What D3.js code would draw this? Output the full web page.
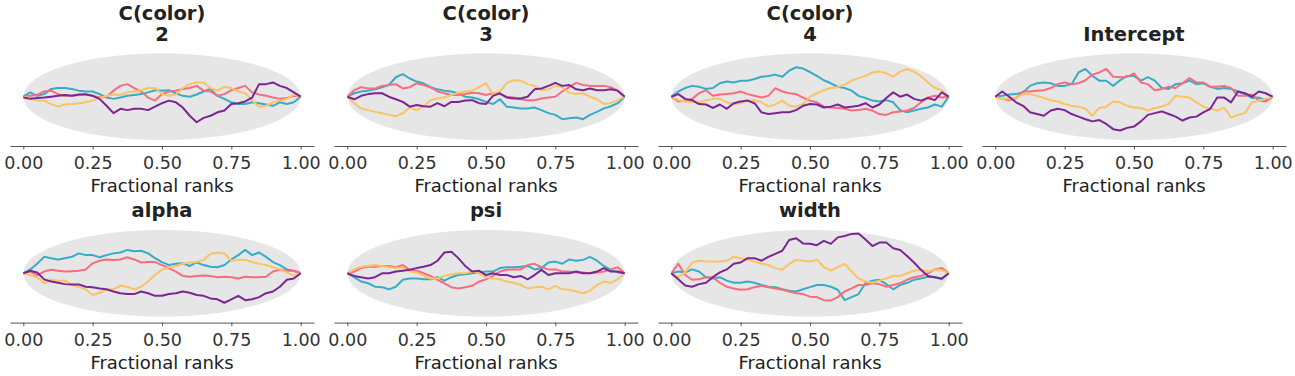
<!DOCTYPE html>
<html>
<head>
<meta charset="utf-8">
<script src="https://cdnjs.cloudflare.com/ajax/libs/d3/7.8.5/d3.min.js"></script>
<style>
body { margin: 0; background: #fff; }
</style>
</head>
<body>
<script>
// rank ECDF difference plot, 4 chains per variable
var chartWidth = 1295;
var chartHeight = 376;

var chainColors = ["#36acc6", "#f66d7f", "#fac364", "#7c2695"];
var tickValues = [0, 0.25, 0.5, 0.75, 1];
var xLabel = "Fractional ranks";
var panelTitles = [["C(color)", "2"], ["C(color)", "3"], ["C(color)", "4"], ["Intercept"], ["alpha"], ["psi"], ["width"]];

// fractional rank grid, 41 points
var rankGrid = [0, 0.025, 0.05, 0.075, 0.1, 0.125, 0.15, 0.175, 0.2, 0.225, 0.25, 0.275, 0.3, 0.325, 0.35, 0.375, 0.4, 0.425, 0.45, 0.475, 0.5,
	0.525, 0.55, 0.575, 0.6, 0.625, 0.65, 0.675, 0.7, 0.725, 0.75, 0.775, 0.8, 0.825, 0.85, 0.875, 0.9, 0.925, 0.95, 0.975, 1];

// ECDF difference per chain (chain 0..3)
var color2Diff = [
	[0, .010, .002, .006, .018, .020, .020, .018, .014, .012, .012, .006, -.002, -.005, -.002, .002, .004, .006, .010, .015, .014, .015, .008, .002, 0, .005, .012, .018, .002, -.005, -.013, -.017, -.017, -.013, -.015, -.018, -.021, -.013, -.017, -.013, 0],
	[0, .002, .004, .012, .014, .006, .002, .002, .004, .006, .002, -.002, 0, .014, .025, .029, .020, .012, -.002, -.009, .006, .012, .014, .018, .020, .025, .014, .012, .002, .006, .015, .020, .025, .010, .005, .002, -.002, -.005, -.003, .002, 0],
	[0, -.003, -.009, -.009, -.017, -.023, -.018, -.017, -.015, -.013, -.009, -.003, .002, .005, .004, .010, .012, .015, .020, .020, .006, .002, .005, .020, .029, .033, .033, .020, .014, .023, .020, .012, .008, -.008, -.023, -.021, -.013, -.009, -.005, .005, 0],
	[-.002, -.005, -.003, -.002, 0, .002, .004, .002, .005, .005, .002, -.005, -.021, -.038, -.028, -.031, -.028, -.028, -.031, -.023, -.015, -.009, -.013, -.025, -.044, -.059, -.049, -.044, -.036, -.032, -.017, -.015, -.011, -.002, .029, .029, .033, .025, .020, .010, 0]
];
var color3Diff = [
	[0, .008, .012, .014, .017, .022, .027, .045, .052, .042, .035, .031, .022, .017, .014, .012, .008, 0, -.002, -.006, -.012, -.017, -.006, -.023, -.025, -.027, -.027, -.025, -.031, -.038, -.042, -.052, -.050, -.048, -.052, -.042, -.035, -.027, -.022, -.015, 0],
	[0, .015, .022, .019, .019, .025, .027, .029, .019, .022, .031, .027, .022, .012, .008, .004, .004, .006, .009, .008, .004, .008, .006, 0, -.002, -.006, -.008, -.008, -.004, -.002, 0, .012, .022, .032, .027, .025, .025, .025, .022, .014, 0],
	[0, -.015, -.027, -.031, -.035, -.038, -.042, -.045, -.038, -.025, -.031, -.022, -.008, -.004, -.002, .004, .009, .012, .014, .022, .031, .006, .012, .032, .038, .037, .029, .025, .015, .017, .025, .022, .009, .006, .008, 0, -.006, -.017, -.015, -.008, 0],
	[0, -.006, .002, .006, .008, .008, 0, -.006, -.012, -.023, -.019, -.022, -.023, -.015, -.022, -.012, -.012, -.009, -.008, -.015, -.017, .002, .008, -.002, -.004, -.004, 0, .017, .019, .025, .032, .025, .027, .017, .015, .019, .015, .015, .017, .014, 0]
];
var color4Diff = [
	[0, .012, .020, .025, .023, .018, .020, .031, .035, .033, .037, .037, .041, .046, .048, .051, .046, .060, .068, .065, .057, .048, .038, .031, .023, .020, .014, .002, -.003, -.009, -.011, -.008, -.013, -.031, -.036, -.032, -.028, -.025, -.018, -.023, 0],
	[0, -.011, -.009, -.005, .008, .015, .002, .005, .006, .008, .012, .006, .002, -.002, .002, .020, .012, .008, .006, -.002, -.009, -.013, -.023, -.025, -.026, -.028, -.032, -.031, -.028, -.032, -.040, -.042, -.036, -.034, -.032, -.026, -.013, -.002, .002, -.002, 0],
	[0, -.008, -.011, -.013, -.013, -.008, -.005, -.005, -.013, -.018, -.015, -.009, -.008, -.013, -.023, -.018, -.009, -.021, -.023, -.017, 0, .008, .015, .020, .022, .028, .037, .043, .048, .056, .058, .054, .046, .058, .064, .058, .048, .033, .020, .015, 0],
	[0, .006, -.005, -.008, -.017, -.018, -.026, -.018, -.028, -.015, -.011, -.009, -.015, -.036, -.040, -.038, -.036, -.036, -.031, -.021, -.017, -.018, -.025, -.023, -.018, -.025, -.023, -.021, -.015, -.025, -.018, -.003, .010, 0, .005, -.005, -.009, -.003, -.008, .010, 0]
];
var interceptDiff = [
	[0, .002, .005, .006, .010, .025, .031, .033, .031, .025, .025, .029, .056, .064, .048, .037, .037, .025, .038, .048, .048, .037, .045, .037, .020, .018, .029, .031, .037, .029, .031, .023, .018, .020, .018, .012, .006, -.003, -.002, -.008, 0],
	[0, -.005, -.008, -.003, .012, .012, .014, .015, .020, .029, .033, .029, .031, .038, .051, .056, .064, .046, .045, .046, .054, .033, .029, .015, .018, .023, .020, .031, .043, .033, .033, .023, .023, .025, .020, .002, .002, .005, -.009, -.011, 0],
	[0, -.005, -.005, -.002, .006, .006, .002, -.003, -.008, -.011, -.017, -.021, -.023, -.028, -.044, -.026, -.023, -.011, -.013, -.021, -.025, -.026, -.032, -.026, -.023, -.017, .002, 0, -.002, -.013, -.023, -.028, -.032, -.025, -.048, -.042, -.038, -.013, -.009, -.005, 0],
	[0, .012, 0, -.013, -.021, -.036, -.040, -.044, -.032, -.028, -.031, -.040, -.046, -.052, -.057, -.054, -.063, -.075, -.078, -.072, -.069, -.057, -.042, -.038, -.034, -.040, -.046, -.055, -.048, -.046, -.036, -.028, -.002, -.002, -.013, .012, .008, 0, .012, .008, 0]
];
var alphaDiff = [
	[0, .009, .022, .038, .035, .032, .035, .038, .046, .042, .042, .037, .042, .046, .048, .054, .051, .052, .046, .035, .026, .019, .022, .023, .017, .025, .019, .015, .014, .019, .032, .042, .054, .042, .048, .038, .026, .019, .009, .006, 0],
	[0, .004, -.004, .004, .008, .006, .004, .005, .006, .009, .023, .029, .032, .031, .032, .037, .032, .025, .026, .026, .019, .012, .004, -.006, -.008, -.006, -.005, -.006, -.009, -.008, -.009, -.012, -.008, -.009, -.009, -.008, .004, .008, .006, .006, 0],
	[0, -.004, -.009, -.023, -.015, -.017, -.017, -.026, -.032, -.037, -.050, -.045, -.038, -.037, -.029, -.031, -.037, -.031, -.019, -.004, .008, .014, .017, .022, .025, .026, .031, .045, .048, .046, .029, .031, .031, .026, .022, .019, .014, .009, .002, -.006, 0],
	[0, .006, .002, -.014, -.019, -.022, -.025, -.026, -.026, -.031, -.032, -.035, -.037, -.042, -.046, -.048, -.048, -.042, -.046, -.052, -.052, -.048, -.046, -.042, -.045, -.050, -.052, -.058, -.060, -.068, -.060, -.052, -.062, -.060, -.055, -.046, -.042, -.031, -.015, -.012, 0]
];
var psiDiff = [
	[0, -.009, -.019, -.023, -.031, -.032, -.037, -.031, -.015, -.012, -.012, -.014, -.014, -.009, -.017, -.009, -.004, -.002, 0, .002, .004, .004, .012, .014, .014, .015, .017, .009, .012, .025, .027, .022, .032, .029, .031, .038, .029, .017, .008, .002, 0],
	[0, .004, .012, .015, .015, .017, .017, .014, .019, .008, .006, 0, -.006, -.015, -.023, -.032, -.035, -.032, -.029, -.019, -.014, -.006, .004, .008, .009, .009, .019, .022, .014, .009, .009, .004, .004, .002, .002, 0, .002, .004, .009, .014, 0],
	[0, .009, .015, .017, .019, .017, .014, .012, .014, .004, .002, -.006, -.012, -.012, -.006, -.002, 0, 0, .004, 0, -.009, -.012, -.014, -.019, -.022, -.027, -.035, -.032, -.031, -.037, -.029, -.037, -.038, -.042, -.046, -.040, -.027, -.019, -.022, -.014, 0],
	[0, -.006, -.009, -.012, -.009, 0, 0, .004, .006, .008, .012, .015, .019, .029, .048, .050, .035, .017, .004, .006, -.004, 0, -.004, -.004, -.009, -.006, -.014, -.004, .008, -.004, 0, 0, 0, .004, 0, 0, .004, .012, .004, .004, 0]
];
var widthDiff = [
	[0, .004, .002, .009, .004, -.009, -.012, -.009, -.017, -.022, -.022, -.019, -.022, -.027, -.031, -.032, -.037, -.040, -.042, -.037, -.032, -.027, -.027, -.031, -.038, -.062, -.055, -.048, -.023, -.017, -.015, -.025, -.037, -.027, -.022, -.015, -.012, -.008, -.009, -.014, 0],
	[0, .022, -.004, -.015, -.014, -.009, -.009, -.022, -.031, -.035, -.038, -.037, -.032, -.029, -.032, -.035, -.038, -.042, -.046, -.048, -.054, -.055, -.062, -.063, -.055, -.042, -.035, -.027, -.027, -.023, -.025, -.031, -.027, -.023, -.015, -.009, -.006, 0, .009, .012, 0],
	[0, -.009, .002, .025, .029, .027, .027, .027, .029, .038, .035, .031, .027, .022, .019, .012, .008, .022, .031, .029, .027, .032, .014, .006, .014, .022, .004, -.012, -.019, -.022, -.017, -.012, -.006, -.006, 0, .006, .008, .004, .008, .008, 0],
	[0, -.014, -.028, -.031, -.025, -.022, -.009, .002, .009, .022, .025, .035, .035, .029, .038, .045, .052, .077, .081, .069, .068, .065, .075, .068, .083, .086, .091, .092, .078, .063, .071, .071, .058, .054, .040, .025, .008, -.006, -.009, -.012, 0]
];
var panelData = [color2Diff, color3Diff, color4Diff, interceptDiff, alphaDiff, psiDiff, widthDiff];

///////////////////////////
// plot parameter
var svg = d3.select("body")
	.append("svg")
	.attr("width", chartWidth)
	.attr("height", chartHeight);

var colStep = 324, rowStep = 176.6;
var panelW = 304;
var firstLeft = 10, firstZero = 96.7;
var fontFam = "'DejaVu Sans', sans-serif";

var x = d3.scaleLinear().domain([-0.048, 1.048]).range([0, panelW]);
// band is +-0.1 at p=0.5, axis sits a bit below the band
var y = d3.scaleLinear().domain([-0.1, 0.1]).range([43.3, -43.3]);
var axisOffset = 49.3;

// simultaneous confidence envelope (ellipse shaped)
var bandGrid = d3.range(0, 1.0001, 0.005);
var bandArea = d3.area()
	.x(function(p) { return x(p); })
	.y0(function(p) { return y(-0.2 * Math.sqrt(p * (1 - p))); })
	.y1(function(p) { return y(0.2 * Math.sqrt(p * (1 - p))); });

var ecdfLine = d3.line()
	.x(function(d, i) { return x(rankGrid[i]); })
	.y(function(d) { return y(d); });

panelData.forEach(function(chains, k) {
	var col = k % 4, row = Math.floor(k / 4);
	var g = svg.append("g")
		.attr("transform", "translate(" + (firstLeft + col * colStep) + "," + (firstZero + row * rowStep) + ")");

	g.append("path")
		.attr("d", bandArea(bandGrid))
		.attr("fill", "#e6e6e6");

	chains.forEach(function(vals, c) {
		g.append("path")
			.attr("d", ecdfLine(vals))
			.attr("fill", "none")
			.attr("stroke", chainColors[c])
			.attr("stroke-width", 2)
			.attr("stroke-linejoin", "round");
	});

	// bottom axis
	var ax = g.append("g")
		.attr("transform", "translate(0," + axisOffset + ")")
		.call(d3.axisBottom(x).tickValues(tickValues).tickFormat(d3.format(".2f")).tickSizeInner(3.5).tickSizeOuter(0).tickPadding(7));
	ax.select(".domain").attr("stroke", "#555").attr("stroke-width", 1);
	ax.selectAll(".tick line").attr("stroke", "#555");
	ax.selectAll(".tick text")
		.attr("fill", "#333")
		.attr("font-family", fontFam)
		.attr("font-size", 17.5);

	g.append("text")
		.attr("x", x(0.5))
		.attr("y", axisOffset + 46)
		.attr("text-anchor", "middle")
		.attr("font-family", fontFam)
		.attr("font-size", 18)
		.attr("fill", "#222")
		.text(xLabel);

	// title, may be two lines
	var lines = panelTitles[k];
	lines.forEach(function(t, j) {
		g.append("text")
			.attr("x", x(0.5))
			.attr("y", -56 - (lines.length - 1 - j) * 20.7)
			.attr("text-anchor", "middle")
			.attr("font-family", fontFam)
			.attr("font-weight", "bold")
			.attr("font-size", 19.5)
			.attr("fill", "#222")
			.text(t);
	});
});
</script>
</body>
</html>
